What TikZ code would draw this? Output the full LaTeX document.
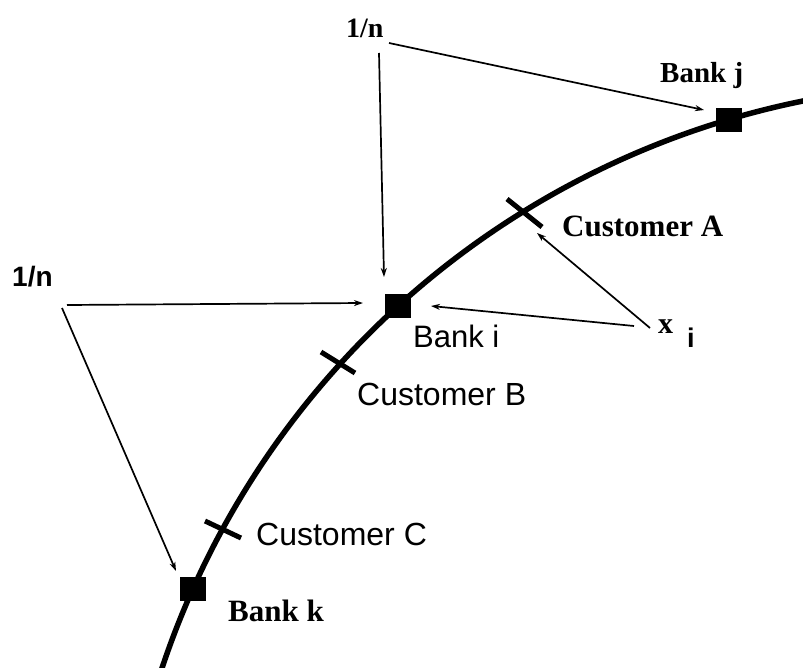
\documentclass[tikz,border=0pt]{standalone}
\usepackage{fontspec}
\setmainfont{Liberation Serif}
\setsansfont{Liberation Sans}
\usetikzlibrary{arrows.meta}
\begin{document}
\begin{tikzpicture}[x=1pt,y=-1pt,
  serifb/.style={font=\bfseries\fontsize{#1}{#1}\selectfont, inner sep=0pt, anchor=base west},
  sansr/.style={font=\sffamily\fontsize{#1}{#1}\selectfont, inner sep=0pt, anchor=base west},
  sansb/.style={font=\sffamily\bfseries\fontsize{#1}{#1}\selectfont, inner sep=0pt, anchor=base west},
  bank/.style={fill=black, draw=none, minimum width=26pt, minimum height=24pt, inner sep=0pt},
  tickmark/.style={line width=5pt},
  circle line/.style={line width=5.5pt},
  arr/.style={line width=1.7pt, -{Stealth[length=9pt,width=6pt]}}]
\useasboundingbox (0,0) rectangle (803,668);
\clip (0,0) rectangle (803,668);
% the arc (centre O, radius 854.5)
\coordinate (O) at (972.6,938.5);
\draw[circle line] (O) ++(196:854.5) arc[start angle=196, end angle=262, radius=854.5];
% customer ticks
\coordinate (tA1) at (507,199);  \coordinate (tA2) at (542,227);
\coordinate (tB1) at (321,352);  \coordinate (tB2) at (355,373);
\coordinate (tC1) at (205,521);  \coordinate (tC2) at (241,538);
\draw[tickmark] (tA1) -- (tA2);
\draw[tickmark] (tB1) -- (tB2);
\draw[tickmark] (tC1) -- (tC2);
% banks
\node[bank] (bj) at ([shift={(O)}]253.42:854.5) {};
\node[bank] (bi) at ([shift={(O)}]227.75:854.5) {};
\node[bank] (bk) at ([shift={(O)}]204.17:854.5) {};
% labels
\node[serifb=28] (n1) at (346,38) {1/n};
\node[serifb=29] (lbj) at (660,83) {Bank j};
\node[serifb=31] (lca) at (562,237) {Customer A};
\node[sansb=28] (n2) at (12,287) {1/n};
\node[sansr=31] (lbi) at (413,347) {Bank i};
\node[serifb=30] (xx) at (658,333) {x};
\node[sansb=27] (xi) at (687,347) {i};
\node[sansr=32] (lcb) at (357,405) {Customer B};
\node[sansr=32] (lcc) at (256,545) {Customer C};
\node[serifb=31] (lbk) at (228,621) {Bank k};
% arrow ends
\coordinate (n1s1) at (379,53);  \coordinate (bitop) at (384,277);
\coordinate (n1s2) at (389,43);  \coordinate (bjtip) at (704,110);
\coordinate (n2s1) at (67,305);  \coordinate (bileft) at (363,303);
\coordinate (n2s2) at (62,308);  \coordinate (bktip) at (176,571);
\coordinate (xs1) at (650,328);  \coordinate (catip) at (537,233);
\coordinate (xs2) at (634,326);  \coordinate (biright) at (431,306);
\draw[arr] (n1s1) -- (bitop);
\draw[arr] (n1s2) -- (bjtip);
\draw[arr] (n2s1) -- (bileft);
\draw[arr] (n2s2) -- (bktip);
\draw[arr] (xs1) -- (catip);
\draw[arr] (xs2) -- (biright);
\end{tikzpicture}
\end{document}
